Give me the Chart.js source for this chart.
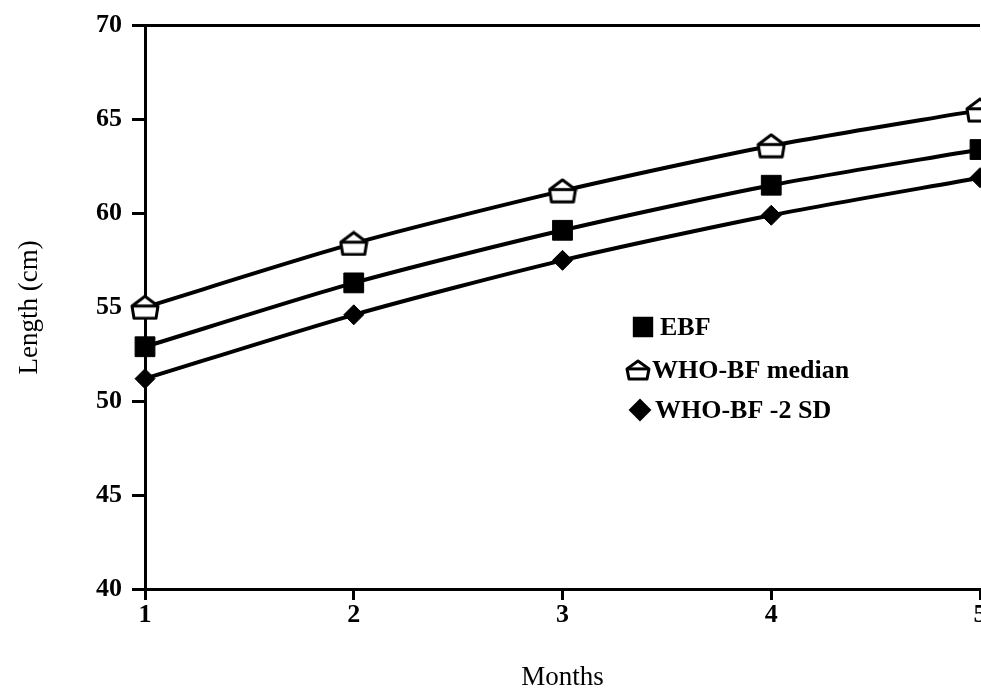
<!DOCTYPE html>
<html>
<head>
<meta charset="utf-8">
<script src="https://cdn.jsdelivr.net/npm/chart.js@4.4.0/dist/chart.umd.min.js"></script>
<style>
  html, body { margin: 0; padding: 0; background: #fff; }
  #wrap { width: 981px; height: 689px; }
</style>
</head>
<body>
<div id="wrap"><canvas id="lenChart" width="981" height="689"></canvas></div>
<script>
var months = [1, 2, 3, 4, 5];
var ebfData = [52.9, 56.3, 59.1, 61.5, 63.4];
var whoMedianData = [55.0, 58.4, 61.2, 63.6, 65.5];
var whoMinus2SdData = [51.2, 54.6, 57.5, 59.9, 61.9];
var yTicks = [40, 45, 50, 55, 60, 65, 70];

// open "house" marker used for the WHO median series
function makeHouse(w, h) {
    var c = document.createElement('canvas');
    c.width = w;
    c.height = h;
    var g = c.getContext('2d');
    g.strokeStyle = '#000';
    g.fillStyle = '#fff';
    g.lineWidth = 3;
    g.lineJoin = 'round';
    g.beginPath();
    g.moveTo(w / 2, 2);
    g.lineTo(w - 2, h * 0.45);
    g.lineTo(w - 4, h - 2);
    g.lineTo(4, h - 2);
    g.lineTo(2, h * 0.45);
    g.closePath();
    g.fill();
    g.stroke();
    g.beginPath();
    g.moveTo(2, h * 0.45);
    g.lineTo(w - 2, h * 0.45);
    g.stroke();
    return c;
}
var houseBig = makeHouse(30, 26);
var houseSmall = makeHouse(26, 22);

var serif = "'Liberation Serif', 'DejaVu Serif', serif";

// legend drawn inside the plot, plus the top border line
var innerLegend = {
    id: 'innerLegend',
    afterDraw: function(chart) {
        var ctx = chart.ctx;
        var area = chart.chartArea;
        ctx.save();
        ctx.strokeStyle = '#000';
        ctx.lineWidth = 3;
        ctx.beginPath();
        ctx.moveTo(area.left, area.top);
        ctx.lineTo(area.right, area.top);
        ctx.stroke();

        var rows = [
            { text: 'EBF', style: 'rect', radius: 13, mx: 643, tx: 660, y: 327 },
            { text: 'WHO-BF median', style: houseSmall, radius: 12, mx: 638, tx: 652, y: 370 },
            { text: 'WHO-BF -2 SD', style: 'rectRot', radius: 10, mx: 640, tx: 655, y: 410 }
        ];
        ctx.font = 'bold 26px ' + serif;
        ctx.textBaseline = 'middle';
        ctx.textAlign = 'left';
        rows.forEach(function(r) {
            ctx.fillStyle = '#000';
            ctx.strokeStyle = '#000';
            ctx.lineWidth = 2;
            Chart.helpers.drawPoint(ctx, { pointStyle: r.style, radius: r.radius, rotation: 0, borderWidth: 2 }, r.mx, r.y);
            ctx.fillStyle = '#000';
            ctx.fillText(r.text, r.tx, r.y + 1);
        });
        ctx.restore();
    }
};

var ctx = document.getElementById('lenChart').getContext('2d');
var lenChart = new Chart(ctx, {
    type: 'line',
    data: {
        labels: months,
        datasets: [{
            label: 'EBF',
            data: ebfData,
            borderColor: '#000',
            backgroundColor: '#000',
            borderWidth: 4,
            pointStyle: 'rect',
            pointRadius: 14,
            pointBorderWidth: 1,
            tension: 0.25
        }, {
            label: 'WHO-BF median',
            data: whoMedianData,
            borderColor: '#000',
            backgroundColor: '#fff',
            borderWidth: 4,
            pointStyle: houseBig,
            pointRadius: 14,
            tension: 0.25
        }, {
            label: 'WHO-BF -2 SD',
            data: whoMinus2SdData,
            borderColor: '#000',
            backgroundColor: '#000',
            borderWidth: 4,
            pointStyle: 'rectRot',
            pointRadius: 10,
            pointBorderWidth: 1,
            tension: 0.25
        }]
    },
    options: {
        responsive: false,
        animation: false,
        clip: false,
        layout: { autoPadding: false, padding: { top: 25, right: 1, left: 0, bottom: 0 } },
        plugins: {
            legend: { display: false },
            tooltip: { enabled: false }
        },
        scales: {
            x: {
                type: 'linear',
                min: 1,
                max: 5,
                afterFit: function(scale) {
                    scale.height = 100;
                    scale.paddingRight = 0;
                },
                afterBuildTicks: function(scale) {
                    scale.ticks = months.map(function(v) { return { value: v }; });
                },
                border: { display: true, color: '#000', width: 3 },
                grid: { drawOnChartArea: false, color: '#000', lineWidth: 3, tickLength: 11 },
                ticks: {
                    color: '#000',
                    font: { family: serif, size: 26, weight: 'bold' },
                    padding: 0,
                    maxRotation: 0
                },
                title: {
                    display: true,
                    text: 'Months',
                    color: '#000',
                    font: { family: serif, size: 27 },
                    padding: { top: 0, bottom: -5 }
                }
            },
            y: {
                min: 40,
                max: 70,
                afterFit: function(scale) { scale.width = 145; },
                afterBuildTicks: function(scale) {
                    scale.ticks = yTicks.map(function(v) { return { value: v }; });
                },
                border: { display: true, color: '#000', width: 3 },
                grid: { drawOnChartArea: false, color: '#000', lineWidth: 3, tickLength: 13 },
                ticks: {
                    color: '#000',
                    font: { family: serif, size: 26, weight: 'bold' },
                    padding: 10
                },
                title: {
                    display: true,
                    text: 'Length (cm)',
                    color: '#000',
                    font: { family: serif, size: 27 },
                    padding: { top: 14, bottom: 0 }
                }
            }
        }
    },
    plugins: [innerLegend]
});
</script>
</body>
</html>
